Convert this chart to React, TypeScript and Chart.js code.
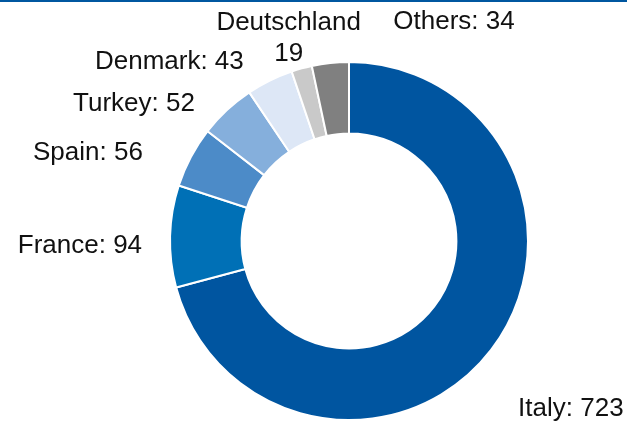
import React, { useEffect, useRef } from "react";
import { Chart, registerables } from "chart.js";

Chart.register(...registerables);

const categories = ["Italy", "France", "Spain", "Turkey", "Denmark", "Deutschland", "Others"];
const values = [723, 94, 56, 52, 43, 19, 34];
const colors = ["#0055A0", "#0070B6", "#4C8BC8", "#85AFDC", "#DDE7F6", "#C9C9C9", "#808080"];
// label layout relative to each slice's outer mid-point: [dx, dy, align, multiline]
const labelLayout: [number, number, CanvasTextAlign, boolean][] = [
  [27, 59, "left", false],
  [-28, 10, "right", false],
  [-48, -4, "right", false],
  [-32, -6, "right", false],
  [-26, -19, "right", false],
  [-13, -46, "center", true],
  [63, -41, "left", false],
];

const labelPlugin = {
  id: "outerLabels",
  beforeDraw(chart: any) {
    const ctx = chart.ctx;
    ctx.save();
    ctx.fillStyle = "#0057A0";
    ctx.fillRect(0, 0, chart.width, 2);
    ctx.restore();
  },
  afterDraw(chart: any) {
    const ctx = chart.ctx;
    const meta = chart.getDatasetMeta(0);
    ctx.save();
    ctx.font = "26px 'Liberation Sans', Arial, sans-serif";
    ctx.fillStyle = "#111111";
    ctx.textBaseline = "middle";
    meta.data.forEach((arc: any, i: number) => {
      const p = arc.getProps(["x", "y", "startAngle", "endAngle", "outerRadius"], true);
      const mid = (p.startAngle + p.endAngle) / 2;
      const ax = p.x + Math.cos(mid) * p.outerRadius;
      const ay = p.y + Math.sin(mid) * p.outerRadius;
      const [dx, dy, align, multi] = labelLayout[i];
      ctx.textAlign = align;
      const lines = multi ? [categories[i], String(values[i])] : [`${categories[i]}: ${values[i]}`];
      lines.forEach((t, k) => ctx.fillText(t, ax + dx, ay + dy + k * 31));
    });
    ctx.restore();
  },
};

export default function App() {
  const ref = useRef<HTMLCanvasElement>(null);
  useEffect(() => {
    if (!ref.current) return;
    const chart = new Chart(ref.current, {
      type: "doughnut",
      data: {
        labels: categories,
        datasets: [
          {
            data: values,
            backgroundColor: colors,
            borderColor: "#ffffff",
            borderWidth: 2,
          },
        ],
      },
      options: {
        responsive: false,
        animation: false,
        cutout: "60%",
        layout: { padding: { top: 61, bottom: 1, left: 169, right: 98 } },
        plugins: { legend: { display: false }, tooltip: { enabled: false } },
      },
      plugins: [labelPlugin],
    });
    return () => chart.destroy();
  }, []);
  return (
    <div style={{ position: "fixed", left: 0, top: 0, width: 627, height: 422, background: "#fff" }}>
      <canvas ref={ref} width={627} height={422} />
    </div>
  );
}
